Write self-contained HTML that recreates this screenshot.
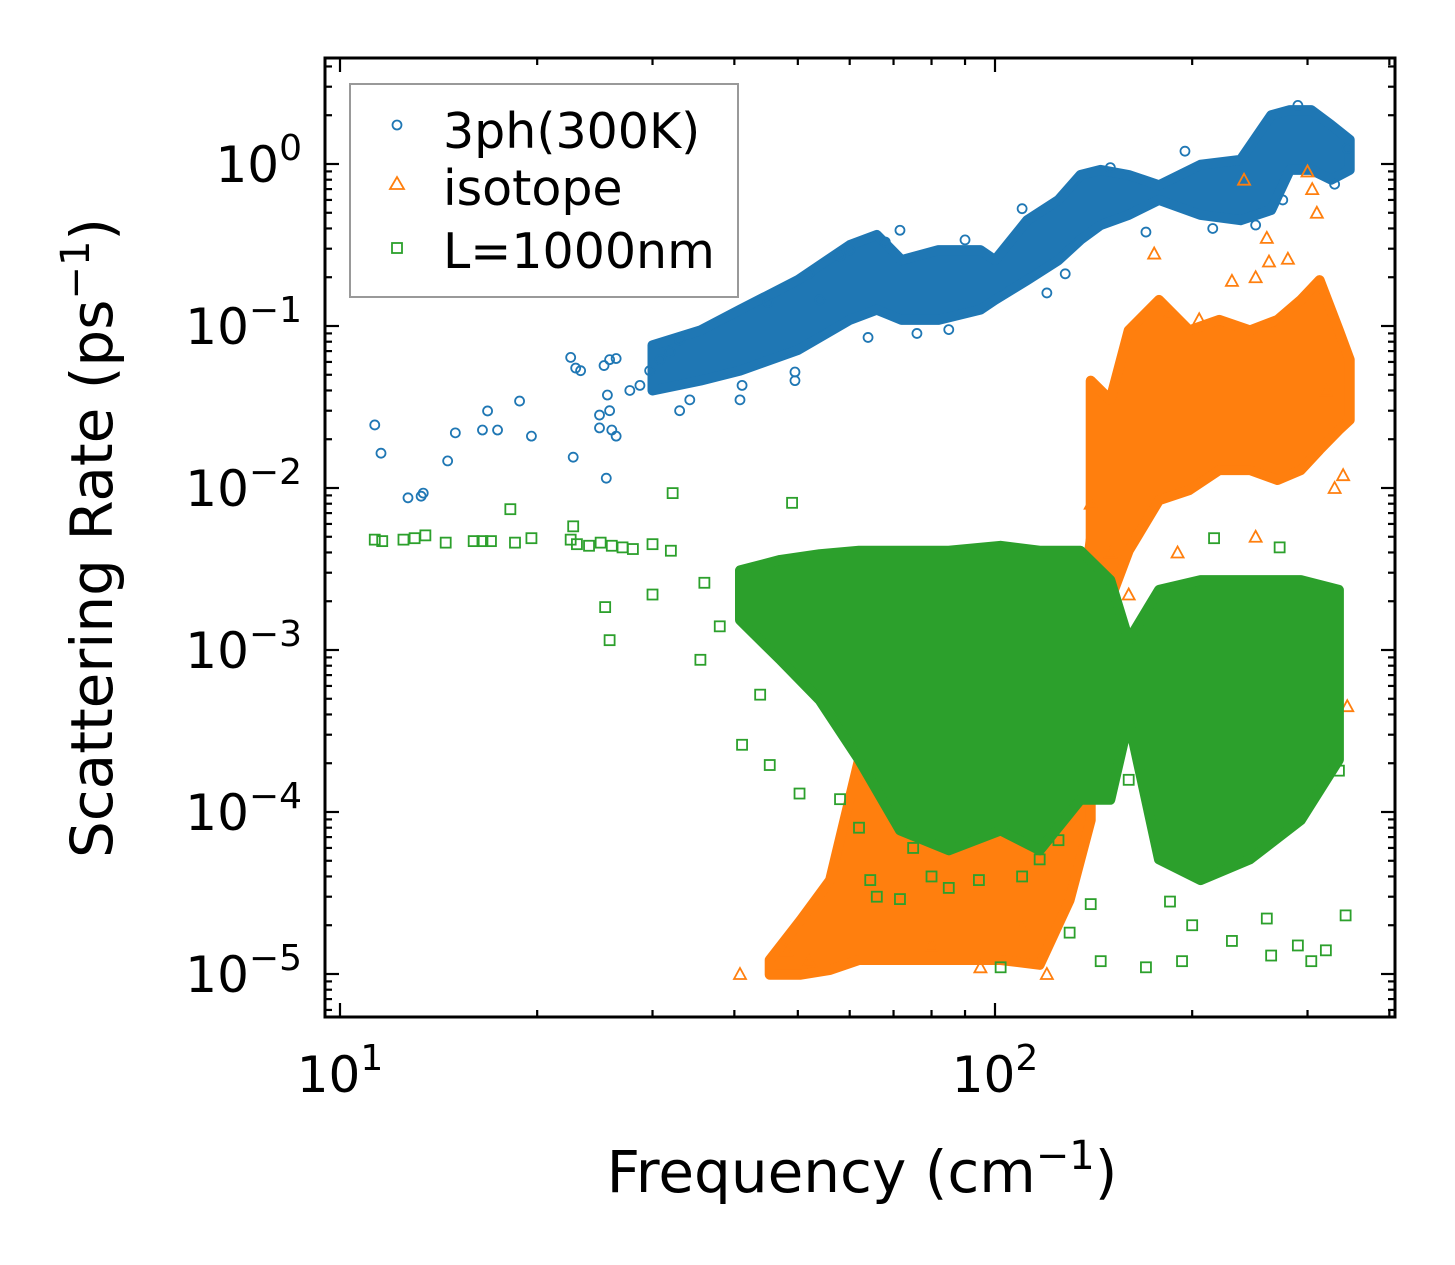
<!DOCTYPE html>
<html><head><meta charset="utf-8"><style>
body{margin:0;background:#fff;}
svg{display:block;font-family:"DejaVu Sans","Liberation Sans",sans-serif;}
</style></head><body>
<svg id="chart" width="1455" height="1265" viewBox="0 0 1455 1265" xmlns="http://www.w3.org/2000/svg">
<rect width="1455" height="1265" fill="#fff"/>
<g id="series"></g>
<g id="axes"></g>
<text x="862" y="1192" font-size="58" text-anchor="middle">Frequency (cm<tspan dy="-23" font-size="40">−1</tspan><tspan dy="23">)</tspan></text>
<text transform="translate(112,538) rotate(-90)" font-size="58" text-anchor="middle">Scattering Rate (ps<tspan dy="-23" font-size="40">−1</tspan><tspan dy="23">)</tspan></text>
<g>
<rect x="350" y="84" width="388" height="213" fill="#fff" stroke="#999" stroke-width="2"/>
<circle cx="397" cy="125" r="4.5" fill="none" stroke="#1f77b4" stroke-width="1.8"/>
<text x="443" y="148" font-size="49">3ph(300K)</text>
<path d="M390,189 L397,177 L404,189 Z" fill="none" stroke="#ff7f0e" stroke-width="1.8"/>
<text x="443" y="205" font-size="49">isotope</text>
<rect x="392" y="243" width="10" height="10" fill="none" stroke="#2ca02c" stroke-width="1.8"/>
<text x="443" y="268" font-size="49">L=1000nm</text>
</g>
</svg>
<script>
// dense bands: frequency, lower, upper
const blueBandF=[30,35.5,40.8,50,60,66,72,82,95,100,112,125,135,145,160,178,206,237,264,282,304,326,348];
const blueBandHi=[0.076,0.094,0.126,0.192,0.316,0.365,0.255,0.294,0.294,0.255,0.45,0.60,0.855,0.92,0.855,0.74,0.99,1.06,2.0,2.15,2.15,1.74,1.41];
const blueBandLo=[0.040,0.046,0.053,0.071,0.109,0.126,0.109,0.109,0.126,0.145,0.192,0.255,0.34,0.42,0.485,0.60,0.485,0.45,0.52,0.92,0.92,0.80,0.92];
const blueF=[11.3,11.55,12.7,13.3,13.4,14.6,15.0,16.5,16.8,17.4,18.8,19.6,22.5,22.9,23.3,22.7,24.9,25.3,25.8,26.4,24.9,25.6,26.0,26.4,25.5,25.8,27.7,28.7,29.7,30.8,31.9,33.0,34.2,33.0,40.8,41.1,49.5,49.5,54,60,71.6,45,52,58,64,68,76,85,90,110,120,128,150,170,195,215,250,275,290,330,345];
const blueV=[0.0245,0.0164,0.0087,0.0089,0.0093,0.0147,0.0219,0.0228,0.0299,0.0228,0.0344,0.0209,0.064,0.055,0.053,0.0155,0.0282,0.057,0.062,0.063,0.0235,0.0375,0.0228,0.0209,0.0115,0.030,0.040,0.043,0.053,0.062,0.069,0.082,0.035,0.030,0.035,0.043,0.046,0.052,0.145,0.294,0.39,0.14,0.21,0.27,0.085,0.33,0.09,0.095,0.34,0.53,0.16,0.21,0.95,0.38,1.2,0.4,0.42,0.6,2.3,0.75,1.25];

const orangeLowF=[45.3,50.5,56,62,71.6,85,102,117,130,140];
const orangeLowLo=[9.9e-6,9.9e-6,1.06e-5,1.22e-5,1.22e-5,1.22e-5,1.22e-5,1.14e-5,2.86e-5,8.9e-5];
const orangeLowHi=[1.22e-5,2.15e-5,3.8e-5,2.1e-4,1.19e-4,8.9e-5,1.19e-4,2.1e-4,4.9e-4,4.8e-3];
const orangeHighF=[140,150,160,178,198,220,245,270,293,313,335,348];
const orangeHighLo=[3.6e-3,2.04e-3,4.1e-3,8.4e-3,9.7e-3,0.0129,0.0129,0.0112,0.0129,0.0172,0.0228,0.0263];
const orangeHighHi=[0.046,0.035,0.094,0.145,0.094,0.109,0.094,0.109,0.145,0.192,0.094,0.062];
const orangeF=[40.8,48,52,140,150,160,175,185,205,240,250,260,262,300,305,310,320,330,340,345,250,175,160,190,65,70,80,95,110,120,230,280];
const orangeV=[1e-5,1.4e-5,1.2e-5,8e-3,4e-3,2.2e-3,0.28,0.12,0.11,0.8,0.2,0.35,0.25,0.9,0.7,0.5,0.04,0.01,0.012,4.5e-4,5e-3,2e-3,1e-3,4e-3,3e-4,2e-4,1.5e-5,1.1e-5,2e-5,1e-5,0.19,0.26];

const greenBandF=[40.8,47,54,62,71.6,85,102,117,135,150,160,178,206,245,293,335];
const greenBandHi=[3.1e-3,3.6e-3,3.9e-3,4.1e-3,4.1e-3,4.1e-3,4.4e-3,4.1e-3,4.1e-3,2.7e-3,1.15e-3,2.35e-3,2.7e-3,2.7e-3,2.7e-3,2.35e-3];
const greenBandLo=[1.53e-3,8.7e-4,4.9e-4,2.1e-4,7.7e-5,5.8e-5,7.7e-5,5.8e-5,1.19e-4,1.19e-4,3.7e-4,5.1e-5,3.8e-5,5.1e-5,8.9e-5,2.1e-4];
const greenF=[11.3,11.6,12.5,13.0,13.5,14.5,16,16.5,17,18.5,19.6,22.5,23,24,25,26,27,28,30,32,18.2,22.7,25.4,25.8,32.2,49,41.1,45.3,50.3,43.8,35.5,216,272,185,193,264,304,343,102,140,145,125,117,94.5,85,71.6,64.5,160,335,36,38,30,58,62,66,75,80,90,110,130,170,200,230,260,290,320];
const greenV=[4.8e-3,4.7e-3,4.8e-3,4.9e-3,5.1e-3,4.6e-3,4.7e-3,4.7e-3,4.7e-3,4.6e-3,4.9e-3,4.8e-3,4.5e-3,4.4e-3,4.6e-3,4.4e-3,4.3e-3,4.2e-3,4.5e-3,4.1e-3,7.4e-3,5.8e-3,1.84e-3,1.15e-3,9.3e-3,8.1e-3,2.6e-4,1.95e-4,1.3e-4,5.3e-4,8.7e-4,4.9e-3,4.3e-3,2.8e-5,1.2e-5,1.3e-5,1.2e-5,2.3e-5,1.1e-5,2.7e-5,1.2e-5,6.7e-5,5.1e-5,3.8e-5,3.4e-5,2.9e-5,3.8e-5,1.58e-4,1.8e-4,2.6e-3,1.4e-3,2.2e-3,1.2e-4,8e-5,3e-5,6e-5,4e-5,9e-5,4e-5,1.8e-5,1.1e-5,2e-5,1.6e-5,2.2e-5,1.5e-5,1.4e-5];

const xTicks=[10,100];
const yTicks=[0,-1,-2,-3,-4,-5];

const NS="http://www.w3.org/2000/svg";
const L=325,R=1395,T=58,B=1017;
function xs(f){return 340+(Math.log10(f)-1)*655;}
function ys(v){return 164-Math.log10(v)*162;}
const sg=document.getElementById('series'), ag=document.getElementById('axes');
function mk(tag,attrs,parent){const e=document.createElementNS(NS,tag);for(const k in attrs)e.setAttribute(k,attrs[k]);parent.appendChild(e);return e;}

function band(F,lo,hi,color,name){
  let d='';
  F.forEach((f,i)=>{d+=(i?'L':'M')+xs(f).toFixed(1)+','+ys(hi[i]).toFixed(1);});
  for(let i=F.length-1;i>=0;i--)d+='L'+xs(F[i]).toFixed(1)+','+ys(lo[i]).toFixed(1);
  const p=mk('path',{d:d+'Z',fill:color,stroke:color,'stroke-width':10,'stroke-linejoin':'round'},sg);
  
  
}
function marker(type,f,v,color){
  const x=xs(f),y=ys(v);let e;
  if(type==='c')e=mk('circle',{cx:x,cy:y,r:4.5,fill:'none',stroke:color,'stroke-width':1.8},sg);
  else if(type==='t')e=mk('path',{d:`M${x-6},${y+5}L${x},${y-6}L${x+6},${y+5}Z`,fill:'none',stroke:color,'stroke-width':1.8},sg);
  else e=mk('rect',{x:x-5,y:y-5,width:10,height:10,fill:'none',stroke:color,'stroke-width':1.8},sg);
  
  
}
band(blueBandF,blueBandLo,blueBandHi,'#1f77b4','band-3ph');
blueF.forEach((f,i)=>marker('c',f,blueV[i],'#1f77b4'));
band(orangeLowF,orangeLowLo,orangeLowHi,'#ff7f0e','band-isotope-low');
band(orangeHighF,orangeHighLo,orangeHighHi,'#ff7f0e','band-isotope-high');
orangeF.forEach((f,i)=>marker('t',f,orangeV[i],'#ff7f0e'));
band(greenBandF,greenBandLo,greenBandHi,'#2ca02c','band-boundary');
greenF.forEach((f,i)=>marker('s',f,greenV[i],'#2ca02c'));

const fr=mk('rect',{x:L,y:T,width:R-L,height:B-T,fill:'none',stroke:'#000','stroke-width':3},ag);


for(let dec=1;dec<=100;dec*=10){for(let m=1;m<10;m++){const f=dec*m;const x=xs(f);if(x<L||x>R)continue;const len=m===1?14:7;
  mk('line',{x1:x,y1:B,x2:x,y2:B-len,stroke:'#000','stroke-width':2.2},ag);
  mk('line',{x1:x,y1:T,x2:x,y2:T+len,stroke:'#000','stroke-width':2.2},ag);}}
xTicks.forEach(f=>{const t=mk('text',{x:xs(f),y:1092,'font-size':50,'text-anchor':'middle'},ag);
  
  
  t.innerHTML='10<tspan dy="-22" font-size="36">'+Math.log10(f)+'</tspan>';});
for(let e=-6;e<=1;e++){for(let m=1;m<10;m++){const v=m*Math.pow(10,e);const y=ys(v);if(y<T||y>B)continue;const len=m===1?14:7;
  mk('line',{x1:L,y1:y,x2:L+len,y2:y,stroke:'#000','stroke-width':2.2},ag);
  mk('line',{x1:R,y1:y,x2:R-len,y2:y,stroke:'#000','stroke-width':2.2},ag);}}
yTicks.forEach(e=>{const y=ys(Math.pow(10,e));const t=mk('text',{x:302,y:y+18,'font-size':50,'text-anchor':'end'},ag);
  
  
  t.innerHTML='10<tspan dy="-22" font-size="36">'+(e===0?'0':'−'+(-e))+'</tspan>';});
</script>
</body></html>
